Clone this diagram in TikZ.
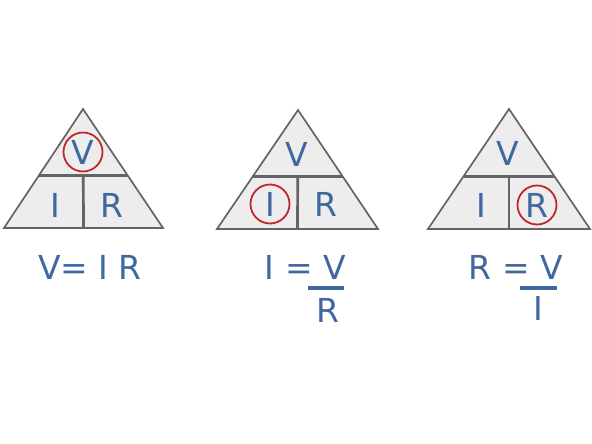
\documentclass[tikz,border=0pt]{standalone}
\usepackage{fontspec}
\setmainfont{DejaVu Sans}
\usetikzlibrary{calc}
\definecolor{ohmblue}{RGB}{64,104,160}
\definecolor{ohmred}{RGB}{192,40,45}
\definecolor{trifill}{RGB}{237,237,237}
\definecolor{triline}{RGB}{100,100,100}
\tikzset{
  tri/.style={fill=trifill,draw=triline,line width=1.7pt},
  split/.style={draw=triline,line width=2.7pt},
  letter/.style={text=ohmblue,font=\fontsize{33}{33}\selectfont,inner sep=0pt},
  ring/.style={draw=ohmred,line width=1.8pt,circle,minimum size=39pt},
  fracbar/.style={draw=ohmblue,line width=3.2pt}
}
\begin{document}
\begin{tikzpicture}[x=1pt,y=-1pt]
\useasboundingbox (0,0) rectangle (592,444);
% Triangle for V
\coordinate (a1) at (83,109);
\coordinate (b1) at (4,228);
\coordinate (c1) at (163,228);
\draw[tri] (a1) -- (b1) -- (c1) -- cycle;
\draw[split] ($(a1)!0.56!(b1)$) coordinate (l1) -- ($(a1)!0.56!(c1)$) coordinate (r1);
\draw[split] ($(l1)!0.5!(r1)$) -- ($(b1)!0.5!(c1)$);
\node[letter,ring] (v1) at (83,152) {V};
\node[letter] (i1) at (55,205) {I};
\node[letter] (rr1) at (112,205) {R};
\node[letter] (eq1) at (90,267) {V= I R};
% Triangle for I
\coordinate (a2) at (298,110);
\coordinate (b2) at (217,229);
\coordinate (c2) at (378,229);
\draw[tri] (a2) -- (b2) -- (c2) -- cycle;
\draw[split] ($(a2)!0.56!(b2)$) coordinate (l2) -- ($(a2)!0.56!(c2)$) coordinate (r2);
\draw[split] ($(l2)!0.5!(r2)$) -- ($(b2)!0.5!(c2)$);
\node[letter] (v2) at (297,154) {V};
\node[letter,ring] (i2) at (270,204) {I};
\node[letter] (rr2) at (326,204) {R};
\node[letter,anchor=east] (eq2) at (346,267) {I = V};
\coordinate (bar2l) at (308,288);
\coordinate (bar2r) at (344,288);
\draw[fracbar] (bar2l) -- (bar2r);
\node[letter] (den2) at (328,310) {R};
% Triangle for R
\coordinate (a3) at (509,109);
\coordinate (b3) at (428,229);
\coordinate (c3) at (590,229);
\draw[tri] (a3) -- (b3) -- (c3) -- cycle;
\draw[split] ($(a3)!0.56!(b3)$) coordinate (l3) -- ($(a3)!0.56!(c3)$) coordinate (r3);
\draw[split] ($(l3)!0.5!(r3)$) -- ($(b3)!0.5!(c3)$);
\node[letter] (v3) at (508,153) {V};
\node[letter] (i3) at (481,205) {I};
\node[letter,ring] (rr3) at (537,205) {R};
\node[letter,anchor=east] (eq3) at (563,267) {R = V};
\coordinate (bar3l) at (520,288);
\coordinate (bar3r) at (557,288);
\draw[fracbar] (bar3l) -- (bar3r);
\node[letter] (den3) at (538,308) {I};
\end{tikzpicture}
\end{document}
